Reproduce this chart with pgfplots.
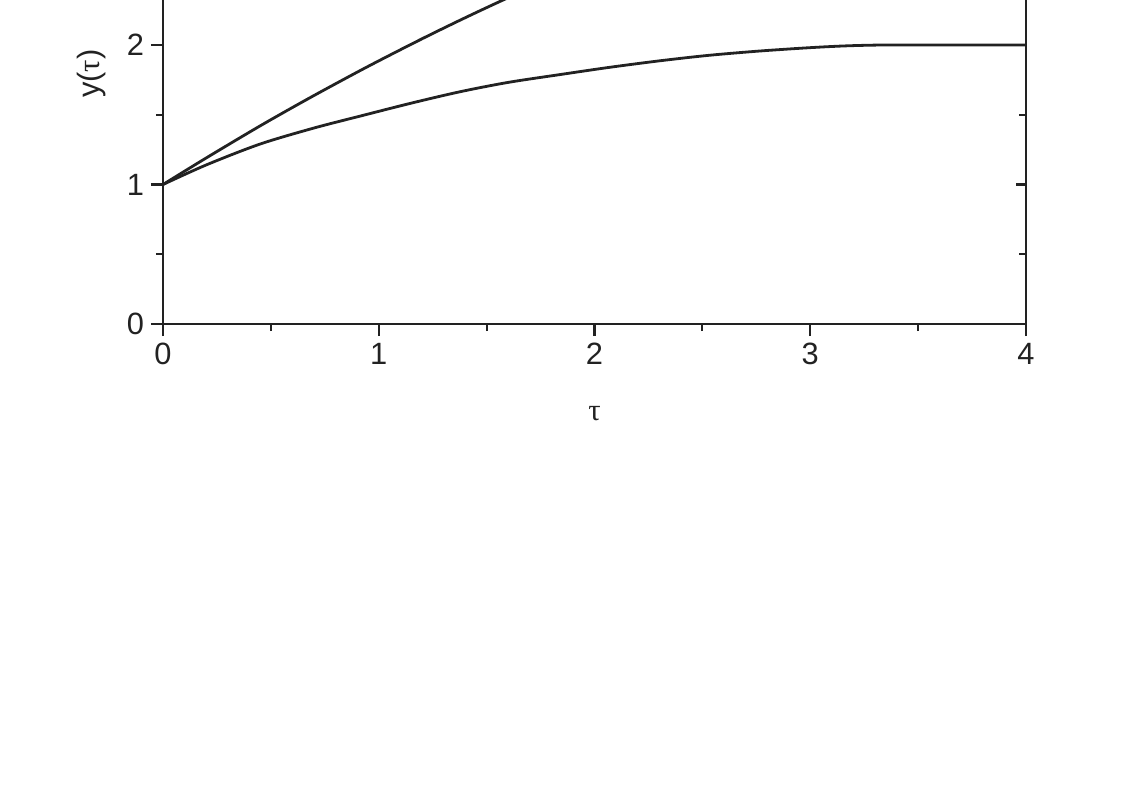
\documentclass[border=0pt]{standalone}
\usepackage{fontspec}
\setmainfont{Liberation Sans}
\newfontfamily\serif{Liberation Serif}
\usepackage{pgfplots}
\pgfplotsset{compat=1.18}
\definecolor{ink}{HTML}{222222}
\begin{document}
\begin{tikzpicture}
% the reference is cropped just above y = 2.3, so the page is cut there
\useasboundingbox (-81.5pt,-232pt) rectangle (484pt,162pt);
\clip (-81.5pt,-232pt) rectangle (484pt,162pt);
\begin{axis}[
  x=107.875pt, y=69.75pt,
  xmin=0, xmax=4, ymin=0, ymax=3.5,
  axis line style={line width=1.3pt, ink},
  every tick/.style={line width=1.1pt, ink},
  tick align=outside, xtick pos=bottom, ytick pos=left,
  major tick length=6pt, minor tick length=3.5pt,
  xtick={0,1,2,3,4}, ytick={0,1,2},
  minor xtick={0.5,1.5,2.5,3.5}, minor ytick={0.5,1.5},
  tick label style={font=\fontsize{15.4}{18}\selectfont, text=ink,
    /pgf/number format/assume math mode=true},
  label style={font=\fontsize{15.4}{18}\selectfont, text=ink},
  xlabel={\serif τ}, ylabel={y({\serif τ})},
  xlabel style={at={(axis description cs:0.5,0)}, anchor=center, yshift=-45pt},
  ylabel style={at={(axis description cs:-0.0823,0.513)}, anchor=center},
]
\addplot[ink, line width=1.4pt, smooth, tension=0.5] coordinates {
  (0,1) (0.2,1.19) (0.45,1.42) (0.68,1.621) (0.913,1.816) (1.07,1.942)
  (1.222,2.061) (1.4,2.195) (1.577,2.323) (1.8,2.477)};
\addplot[ink, line width=1.4pt, smooth, tension=0.5] coordinates {
  (0,1) (0.2,1.14) (0.45,1.29) (0.7,1.405) (0.913,1.49) (1.15,1.583)
  (1.377,1.665) (1.6,1.732) (1.84,1.788) (2.07,1.84) (2.304,1.887)
  (2.53,1.926) (2.767,1.957) (3.0,1.981) (3.17,1.994) (3.34,2.0) (3.6,2.0) (4,2.0)};
\end{axis}
% mirrored ticks on the right edge point inwards
\begin{axis}[
  x=107.875pt, y=69.75pt,
  xmin=0, xmax=4, ymin=0, ymax=3.5,
  axis line style={draw=none},
  every tick/.style={line width=1.1pt, ink},
  xtick=\empty, ytick={0,1,2}, minor ytick={0.5,1.5},
  ytick pos=right, tick align=inside, yticklabels={},
  major tick length=5pt, minor tick length=3.5pt,
]
\end{axis}
\end{tikzpicture}
\end{document}
